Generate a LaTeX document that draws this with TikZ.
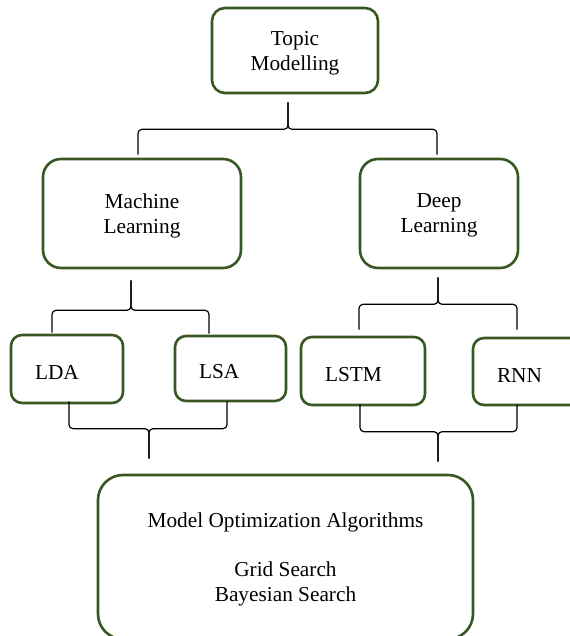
\documentclass[tikz,border=0pt]{standalone}
\usepackage{fontspec}
\setmainfont{Liberation Serif}
\usepackage{tikz}
\usetikzlibrary{calc}
\definecolor{boxgreen}{RGB}{56,87,35}
\newcommand{\wordbrace}[4]{%
\draw[brace line] (#1) |- (#4) -- (#3);
\draw[brace line] (#3) -- (#4) -| (#2);}

\begin{document}
\begin{tikzpicture}[x=0.5pt, y=-0.5pt, font=\fontsize{10.65}{12.5}\selectfont,
roundbox/.style={draw=boxgreen, line width=1.3pt, rounded corners=#1, align=center, inner sep=0pt, text depth=-1.2pt},
leafbox/.style={draw=boxgreen, line width=1.3pt, rounded corners=5.5pt, align=left, inner xsep=12pt, inner ysep=0pt, minimum height=34pt, text width=#1, execute at begin node={\rule{0pt}{10.5pt}}},
brace line/.style={black, line width=0.6pt, rounded corners=2pt}]
\useasboundingbox (0,0) rectangle (569,636);
\node[roundbox=6.5pt, minimum width=83pt, minimum height=42.5pt] (topic) at (295,50.5) {Topic\\Modelling};
\node[roundbox=9pt, minimum width=99pt, minimum height=54.5pt] (ml) at (142,213.5) {Machine\\Learning};
\node[roundbox=9pt, minimum width=79pt, minimum height=54.5pt] (dl) at (439,213.5) {Deep\\Learning};
\node[leafbox=32pt] (lda) at (67,369) {LDA};
\node[leafbox=31.5pt, minimum height=32.5pt] (lsa) at (230.5,368.5) {LSA};
\node[leafbox=38pt] (lstm) at (363,371) {LSTM};
\node[leafbox=31pt, minimum height=33.5pt] (rnn) at (528,371.5) {RNN};
\node[roundbox=12.5pt, minimum width=187.5pt, minimum height=82pt] (opt) at (285.5,557) {Model Optimization Algorithms\\[12pt]Grid Search\\Bayesian Search};

\coordinate (tb-s) at ($(topic.south)+(-7,8)$);
\coordinate (tb-c) at ($(tb-s)+(0,27)$);
\coordinate (tb-l) at ($(ml.north)+(-4,-3)$);
\coordinate (tb-r) at ($(dl.north)+(-2,-3)$);
\wordbrace{tb-l}{tb-r}{tb-s}{tb-c}

\coordinate (mb-s) at ($(ml.south)+(-11,11)$);
\coordinate (mb-c) at ($(mb-s)+(0,30)$);
\coordinate (mb-l) at ($(lda.north)+(-15,-1)$);
\coordinate (mb-r) at ($(lsa.north)+(-21.5,-1)$);
\wordbrace{mb-l}{mb-r}{mb-s}{mb-c}

\coordinate (db-s) at ($(dl.south)+(-1,8)$);
\coordinate (db-c) at ($(db-s)+(0,27)$);
\coordinate (db-l) at ($(lstm.north)+(-4,-6)$);
\coordinate (db-r) at ($(rnn.north)+(-11,-7)$);
\wordbrace{db-l}{db-r}{db-s}{db-c}

\coordinate (lb-s) at ($(opt.north)+(-136.5,-15)$);
\coordinate (lb-c) at ($(lb-s)+(0,-30)$);
\coordinate (lb-l) at ($(lda.south)+(2,-3)$);
\coordinate (lb-r) at ($(lsa.south)+(-3.5,-1)$);
\wordbrace{lb-l}{lb-r}{lb-s}{lb-c}

\coordinate (rb-s) at ($(opt.north)+(152.5,-12)$);
\coordinate (rb-c) at ($(rb-s)+(0,-30)$);
\coordinate (rb-l) at ($(lstm.south)+(-3,-2)$);
\coordinate (rb-r) at ($(rnn.south)+(-11,-2)$);
\wordbrace{rb-l}{rb-r}{rb-s}{rb-c}
\end{tikzpicture}
\end{document}
